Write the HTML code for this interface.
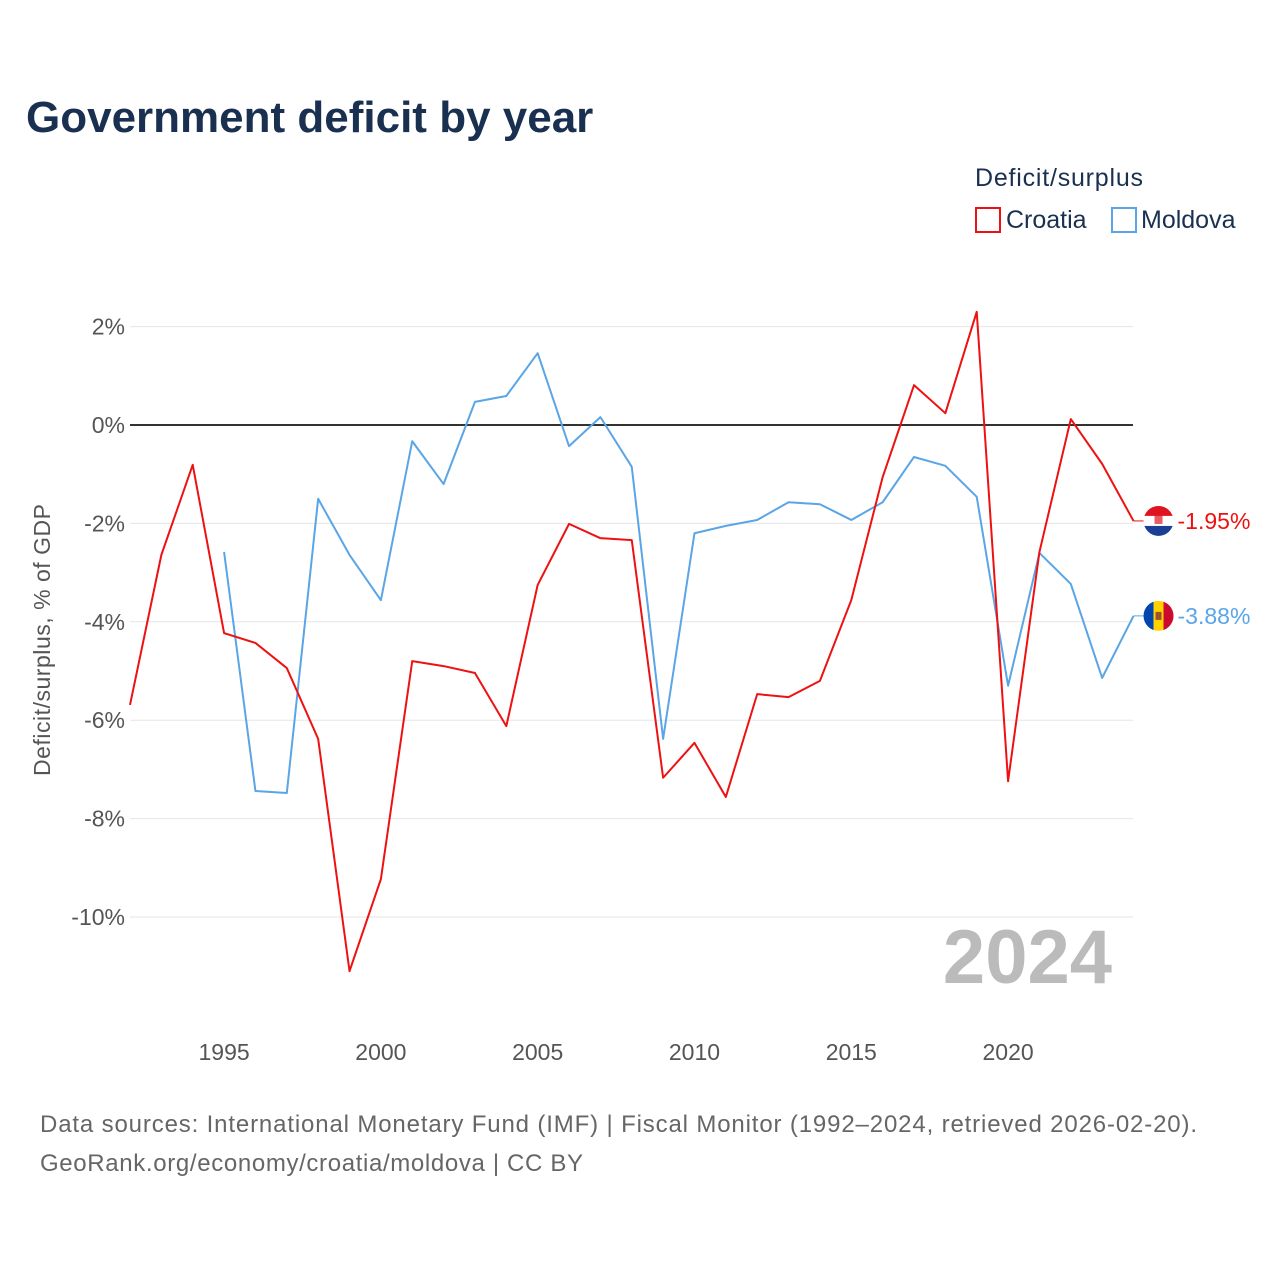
<!DOCTYPE html>
<html><head><meta charset="utf-8"><style>
body{margin:0;background:#fff;font-family:"Liberation Sans",sans-serif;}
#wrap{position:relative;width:1280px;height:1280px;overflow:hidden;}
</style></head><body>
<div id="wrap">
<svg id="svg" width="1280" height="1280" xmlns="http://www.w3.org/2000/svg">
<text x="26" y="132" font-size="44" font-weight="bold" fill="#1a3050">Government deficit by year</text>
<text x="975" y="186" font-size="25" fill="#1a3050" textLength="168">Deficit/surplus</text>
<g><rect x="976" y="208" width="24" height="24" fill="none" stroke="#ee1111" stroke-width="2"/><text x="1006" y="228" font-size="25" fill="#1a3050">Croatia</text></g>
<g><rect x="1112" y="208" width="24" height="24" fill="none" stroke="#5aa5e6" stroke-width="2"/><text x="1141" y="228" font-size="25" fill="#1a3050">Moldova</text></g>
<text transform="translate(50,640) rotate(-90)" text-anchor="middle" font-size="23" fill="#555" textLength="272">Deficit/surplus, % of GDP</text>
<g id="grid"></g><g id="lines"></g>
<text x="1112" y="983" text-anchor="end" font-size="76" font-weight="bold" fill="#bbb">2024</text>
<text x="40" y="1132" font-size="24" fill="#666" textLength="1157">Data sources: International Monetary Fund (IMF) | Fiscal Monitor (1992–2024, retrieved 2026-02-20).</text>
<text x="40" y="1171" font-size="24" fill="#666" textLength="543">GeoRank.org/economy/croatia/moldova | CC BY</text>
</svg></div>
<script>
const yTicks=[2,0,-2,-4,-6,-8,-10];
const xTicks=[1995,2000,2005,2010,2015,2020];
const croatiaYears=[1992,1993,1994,1995,1996,1997,1998,1999,2000,2001,2002,2003,2004,2005,2006,2007,2008,2009,2010,2011,2012,2013,2014,2015,2016,2017,2018,2019,2020,2021,2022,2023,2024];
const croatia=[-5.69,-2.64,-0.81,-4.23,-4.43,-4.94,-6.38,-11.1,-9.23,-4.8,-4.9,-5.04,-6.12,-3.25,-2.01,-2.3,-2.34,-7.17,-6.46,-7.56,-5.47,-5.53,-5.2,-3.56,-1.06,0.81,0.24,2.3,-7.24,-2.58,0.12,-0.79,-1.95];
const moldovaYears=[1995,1996,1997,1998,1999,2000,2001,2002,2003,2004,2005,2006,2007,2008,2009,2010,2011,2012,2013,2014,2015,2016,2017,2018,2019,2020,2021,2022,2023,2024];
const moldova=[-2.58,-7.44,-7.48,-1.5,-2.64,-3.56,-0.33,-1.2,0.47,0.59,1.46,-0.43,0.16,-0.85,-6.38,-2.2,-2.05,-1.93,-1.57,-1.61,-1.93,-1.57,-0.65,-0.83,-1.46,-5.3,-2.6,-3.23,-5.14,-3.88];
const NS='http://www.w3.org/2000/svg';
const xS=y=>130+(y-1992)*31.36;
const yS=v=>425-v*49.2;
const grid=document.getElementById('grid'),lines=document.getElementById('lines');
function mk(tag,at,parent){const e=document.createElementNS(NS,tag);for(const k in at)e.setAttribute(k,at[k]);parent.appendChild(e);return e;}
yTicks.forEach(v=>{
 const l=mk('line',{x1:130,x2:1133,y1:yS(v),y2:yS(v),stroke:v===0?'#333':'#e6e6e6','stroke-width':v===0?2:1},grid);
 
 
 const t=mk('text',{x:125,y:yS(v)+8,'text-anchor':'end','font-size':23,fill:'#555'},grid);
 t.textContent=v+'%';
 
 
});
xTicks.forEach(y=>{
 const t=mk('text',{x:xS(y),y:1060,'text-anchor':'middle','font-size':23,fill:'#555'},grid);
 t.textContent=y;
 
 
});
function series(years,vals,color,name,label){
 const p=mk('polyline',{points:years.map((y,i)=>xS(y)+','+yS(vals[i])).join(' '),fill:'none',stroke:color,'stroke-width':2,'stroke-linejoin':'round'},lines);
 
 
 const lx=xS(years[years.length-1]),ly=yS(vals[vals.length-1]);
 mk('line',{x1:lx,x2:lx+12,y1:ly,y2:ly,stroke:color,'stroke-width':1},lines);
 const g=mk('g',{},lines);
 
 
 mk('clipPath',{id:'c'+name},g).appendChild(document.createElementNS(NS,'circle')).setAttribute('r',15);
 const c=document.getElementById('c'+name).firstChild;c.setAttribute('cx',lx+25);c.setAttribute('cy',ly);
 const cp='url(#c'+name+')';
 if(name==='croatia'){
  mk('rect',{x:lx+10,y:ly-15,width:30,height:10,fill:'#e0141e','clip-path':cp},g);
  mk('rect',{x:lx+10,y:ly-5,width:30,height:10,fill:'#fff','clip-path':cp},g);
  mk('rect',{x:lx+10,y:ly+5,width:30,height:10,fill:'#1b3f94','clip-path':cp},g);
  mk('rect',{x:lx+21,y:ly-7,width:8,height:10,fill:'#e0141e',opacity:0.7},g);
 }else{
  mk('rect',{x:lx+10,y:ly-15,width:10,height:30,fill:'#0046ae','clip-path':cp},g);
  mk('rect',{x:lx+20,y:ly-15,width:10,height:30,fill:'#ffd200','clip-path':cp},g);
  mk('rect',{x:lx+30,y:ly-15,width:10,height:30,fill:'#cc092f','clip-path':cp},g);
  mk('rect',{x:lx+22,y:ly-4,width:6,height:8,fill:'#a0522d'},g);
 }
 const t=mk('text',{x:lx+44,y:ly+8,'font-size':23,fill:color},lines);
 t.textContent=label;
 
 
}
series(moldovaYears,moldova,'#5aa5e6','moldova','-3.88%');
series(croatiaYears,croatia,'#ee1111','croatia','-1.95%');
</script>
</body></html>
